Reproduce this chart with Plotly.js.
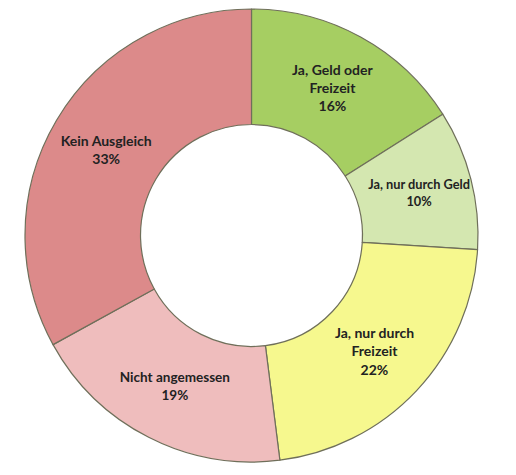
<!DOCTYPE html>
<html><head><meta charset="utf-8">
<script src="https://cdn.plot.ly/plotly-3.0.1.min.js"></script>
<style>html,body{margin:0;padding:0;background:#fff;}#chart{width:516px;height:475px;}</style>
</head><body><div id="chart"></div>
<script>
const categories = ["Ja, Geld oder<br>Freizeit", "Ja, nur durch Geld", "Ja, nur durch<br>Freizeit", "Nicht angemessen", "Kein Ausgleich"];
const shares = [16, 10, 22, 19, 33];
const sliceColors = ["#a6ce62", "#d4e7b0", "#f6f88e", "#efbdbd", "#dc8a8a"];

const trace = {
  type: "pie",
  labels: categories,
  values: shares,
  sort: false,
  direction: "clockwise",
  rotation: 0,
  hole: 0.49,
  marker: {colors: sliceColors, line: {color: "#6f6f5a", width: 1.2}},
  texttemplate: "%{label}<br>%{value}%",
  textposition: "inside",
  insidetextorientation: "horizontal",
  textfont: {family: "Lato, Open Sans, sans-serif", size: 14, color: "#222", weight: "bold"},
  hoverinfo: "none",
  showlegend: false
};
Plotly.newPlot("chart", [trace], {
  width: 516, height: 475,
  margin: {l: 25, r: 38, t: 8, b: 12},
  paper_bgcolor: "#fff",
  showlegend: false
}, {displayModeBar: false, staticPlot: true});
</script></body></html>
